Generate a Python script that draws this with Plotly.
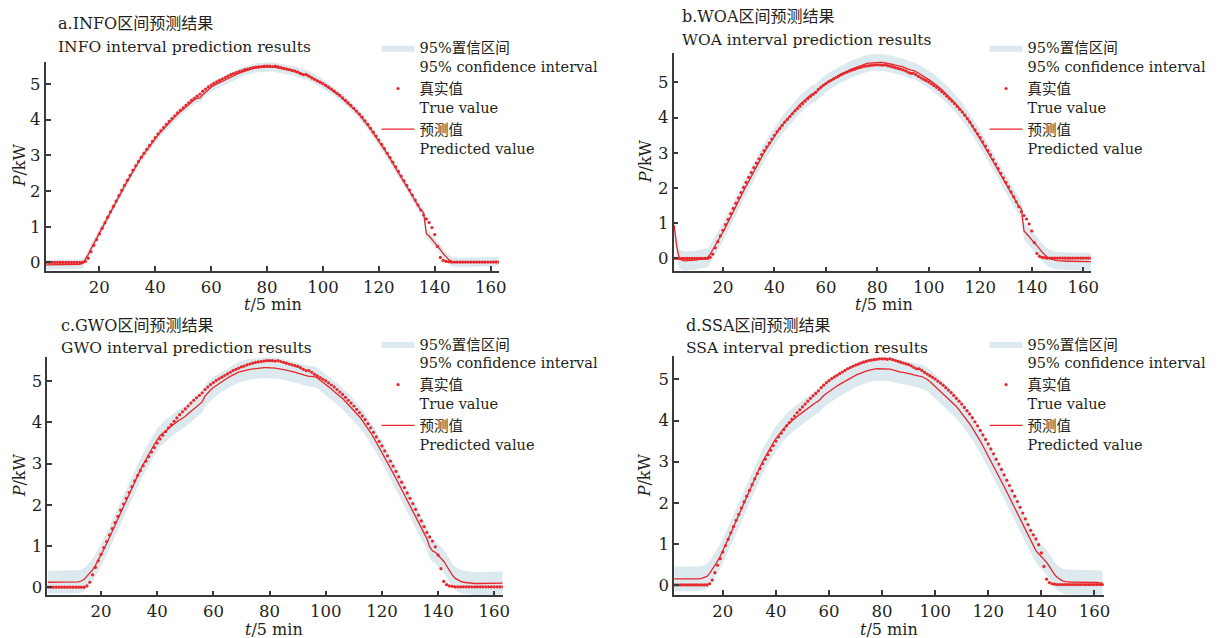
import plotly.graph_objects as go

t = list(range(1, 164))

true_val = [
    0, 0, 0, 0, 0, 0, 0, 0, 0, 0, 0, 0, 0, 0,
    0.03, 0.12, 0.30, 0.48, 0.64, 0.80,
    0.96, 1.11, 1.27, 1.42, 1.57, 1.72, 1.87, 2.02, 2.16, 2.30,
    2.44, 2.58, 2.71, 2.83, 2.95, 3.06, 3.17, 3.28, 3.39, 3.50,
    3.60, 3.69, 3.78, 3.87, 3.95, 4.03, 4.11, 4.19, 4.26, 4.33,
    4.40, 4.47, 4.54, 4.60, 4.66, 4.72, 4.80, 4.86, 4.92, 4.97,
    5.02, 5.06, 5.10, 5.14, 5.18, 5.22, 5.26, 5.29, 5.32, 5.35,
    5.37, 5.40, 5.42, 5.44, 5.46, 5.47, 5.48, 5.49, 5.50, 5.50,
    5.50, 5.49, 5.50, 5.48, 5.46, 5.44, 5.42, 5.40, 5.38, 5.36,
    5.33, 5.29, 5.26, 5.26, 5.22, 5.17, 5.13, 5.09, 5.05, 5.01,
    4.96, 4.91, 4.86, 4.80, 4.74, 4.68, 4.61, 4.54, 4.47, 4.40,
    4.32, 4.24, 4.16, 4.07, 3.97, 3.87, 3.76, 3.65, 3.54, 3.43,
    3.31, 3.19, 3.06, 2.94, 2.81, 2.68, 2.55, 2.42, 2.29, 2.16,
    2.03, 1.89, 1.75, 1.61, 1.47, 1.33, 1.22, 1.12, 0.98, 0.78,
    0.45, 0.14, 0.06, 0.03, 0.02, 0.01, 0.01, 0.01, 0.01, 0.01,
    0.01, 0.01, 0.01, 0.01, 0.01, 0.01, 0.01, 0.01, 0.01, 0.01,
    0.01, 0.01, 0.01,
]

pred_info = [
    -0.07, -0.07, -0.07, -0.07, -0.07, -0.07, -0.07, -0.07, -0.07, -0.06, -0.06, -0.06, -0.05,
    -0.03,
    0.08, 0.22, 0.38, 0.53, 0.68, 0.82,
    0.97, 1.11, 1.26, 1.41, 1.56, 1.71, 1.86, 2.00, 2.14, 2.28,
    2.42, 2.56, 2.69, 2.82, 2.94, 3.05, 3.16, 3.27, 3.37, 3.47,
    3.57, 3.66, 3.75, 3.84, 3.92, 4.00, 4.08, 4.16, 4.23, 4.30,
    4.37, 4.44, 4.50, 4.56, 4.60, 4.61, 4.70, 4.78, 4.85, 4.91,
    4.96, 5.00, 5.04, 5.08, 5.12, 5.16, 5.20, 5.23, 5.27, 5.30,
    5.33, 5.36, 5.39, 5.41, 5.43, 5.45, 5.46, 5.47, 5.48, 5.48,
    5.48, 5.48, 5.47, 5.46, 5.44, 5.42, 5.40, 5.39, 5.38, 5.36,
    5.33, 5.30, 5.27, 5.27, 5.23, 5.18, 5.14, 5.10, 5.05, 5.00,
    4.95, 4.90, 4.85, 4.79, 4.73, 4.67, 4.60, 4.53, 4.46, 4.39,
    4.31, 4.23, 4.14, 4.05, 3.95, 3.85, 3.74, 3.63, 3.52, 3.40,
    3.28, 3.16, 3.04, 2.91, 2.78, 2.65, 2.52, 2.39, 2.25, 2.12,
    1.98, 1.84, 1.71, 1.58, 1.47, 1.40, 0.80, 0.74, 0.65, 0.56,
    0.46, 0.36, 0.25, 0.15, 0.08, 0.03, 0.01, 0.00, 0.00, 0.00,
    0.00, 0.00, 0.00, 0.00, 0.00, 0.00, 0.01, 0.01, 0.01, 0.01,
    0.02, 0.03, 0.02,
]

pred_woa = [
    0.95, 0.35, 0.00, -0.05, -0.07, -0.07, -0.07, -0.06, -0.05, -0.04, -0.03, -0.02, 0.00, 0.02,
    0.12, 0.24, 0.37, 0.50, 0.62, 0.75,
    0.89, 1.03, 1.17, 1.32, 1.47, 1.62, 1.77, 1.92, 2.06, 2.20,
    2.34, 2.48, 2.62, 2.75, 2.88, 3.01, 3.13, 3.25, 3.37, 3.48,
    3.59, 3.69, 3.79, 3.88, 3.97, 4.06, 4.14, 4.22, 4.30, 4.38,
    4.45, 4.52, 4.58, 4.64, 4.68, 4.70, 4.78, 4.85, 4.91, 4.97,
    5.02, 5.07, 5.12, 5.16, 5.20, 5.24, 5.28, 5.32, 5.35, 5.38,
    5.41, 5.44, 5.47, 5.50, 5.52, 5.54, 5.55, 5.56, 5.57, 5.57,
    5.57, 5.57, 5.56, 5.55, 5.53, 5.51, 5.49, 5.48, 5.46, 5.44,
    5.41, 5.37, 5.35, 5.34, 5.31, 5.27, 5.22, 5.18, 5.13, 5.08,
    5.03, 4.98, 4.92, 4.86, 4.80, 4.73, 4.66, 4.59, 4.51, 4.43,
    4.35, 4.26, 4.17, 4.07, 3.97, 3.86, 3.75, 3.63, 3.51, 3.39,
    3.27, 3.14, 3.01, 2.88, 2.75, 2.62, 2.49, 2.36, 2.23, 2.10,
    1.97, 1.84, 1.71, 1.59, 1.48, 1.40, 0.78, 0.70, 0.62, 0.53,
    0.45, 0.37, 0.28, 0.18, 0.10, 0.04, 0.00, -0.03, -0.05, -0.06,
    -0.07, -0.07, -0.08, -0.08, -0.08, -0.08, -0.08, -0.09, -0.09, -0.09,
    -0.09, -0.09, -0.09,
]

pred_gwo = [
    0.12, 0.12, 0.12, 0.12, 0.12, 0.12, 0.12, 0.12, 0.12, 0.12, 0.13, 0.13, 0.15, 0.19,
    0.27, 0.34, 0.42, 0.53, 0.65, 0.78,
    0.92, 1.06, 1.21, 1.36, 1.51, 1.67, 1.83, 1.98, 2.13, 2.28,
    2.43, 2.57, 2.71, 2.85, 2.98, 3.11, 3.24, 3.35, 3.47, 3.58,
    3.68, 3.74, 3.80, 3.86, 3.91, 3.97, 4.02, 4.06, 4.10, 4.15,
    4.21, 4.27, 4.33, 4.39, 4.45, 4.50, 4.64, 4.72, 4.79, 4.85,
    4.90, 4.95, 5.00, 5.04, 5.08, 5.12, 5.16, 5.19, 5.22, 5.24,
    5.26, 5.28, 5.29, 5.30, 5.31, 5.32, 5.32, 5.33, 5.33, 5.33,
    5.32, 5.32, 5.31, 5.30, 5.28, 5.27, 5.25, 5.24, 5.22, 5.20,
    5.18, 5.15, 5.13, 5.12, 5.12, 5.11, 5.08, 5.03, 4.97, 4.91,
    4.86, 4.81, 4.75, 4.70, 4.64, 4.58, 4.51, 4.44, 4.37, 4.30,
    4.22, 4.14, 4.05, 3.96, 3.86, 3.75, 3.64, 3.52, 3.40, 3.28,
    3.16, 3.03, 2.90, 2.77, 2.64, 2.51, 2.38, 2.25, 2.12, 1.99,
    1.86, 1.73, 1.60, 1.47, 1.34, 1.18, 0.98, 0.88, 0.85, 0.78,
    0.71, 0.63, 0.52, 0.40, 0.30, 0.22, 0.17, 0.14, 0.12, 0.11,
    0.10, 0.10, 0.09, 0.09, 0.09, 0.09, 0.09, 0.10, 0.10, 0.10,
    0.10, 0.10, 0.10,
]

pred_ssa = [
    0.15, 0.15, 0.15, 0.15, 0.15, 0.14, 0.14, 0.14, 0.14, 0.15, 0.15, 0.16, 0.18, 0.21,
    0.28, 0.37, 0.47, 0.58, 0.70, 0.83,
    0.97, 1.11, 1.26, 1.41, 1.56, 1.71, 1.86, 2.01, 2.16, 2.31,
    2.46, 2.60, 2.74, 2.87, 3.00, 3.12, 3.24, 3.35, 3.46, 3.56,
    3.65, 3.73, 3.81, 3.88, 3.94, 4.00, 4.05, 4.10, 4.15, 4.20,
    4.25, 4.30, 4.35, 4.40, 4.44, 4.47, 4.55, 4.61, 4.66, 4.71,
    4.76, 4.80, 4.84, 4.88, 4.92, 4.96, 5.00, 5.04, 5.07, 5.10,
    5.13, 5.16, 5.18, 5.20, 5.22, 5.24, 5.25, 5.26, 5.26, 5.26,
    5.26, 5.26, 5.25, 5.23, 5.21, 5.20, 5.18, 5.17, 5.16, 5.15,
    5.13, 5.11, 5.09, 5.08, 5.07, 5.04, 5.00, 4.95, 4.89, 4.83,
    4.78, 4.72, 4.66, 4.60, 4.54, 4.48, 4.41, 4.34, 4.26, 4.18,
    4.10, 4.01, 3.92, 3.82, 3.72, 3.61, 3.50, 3.38, 3.26, 3.14,
    3.02, 2.90, 2.78, 2.65, 2.52, 2.39, 2.26, 2.13, 2.00, 1.87,
    1.74, 1.61, 1.48, 1.36, 1.24, 1.10, 0.95, 0.83, 0.76, 0.69,
    0.62, 0.55, 0.45, 0.34, 0.25, 0.18, 0.13, 0.10, 0.08, 0.07,
    0.07, 0.07, 0.07, 0.07, 0.07, 0.07, 0.07, 0.07, 0.07, 0.06,
    0.06, 0.05, 0.05,
]

# half-width of the 95% confidence band, read per point
hw_info = [
    0.13, 0.13, 0.13, 0.13, 0.13, 0.13, 0.13, 0.13, 0.13, 0.13, 0.13, 0.13, 0.13, 0.13,
    0.12, 0.12, 0.12, 0.12, 0.12, 0.12,
    0.12, 0.12, 0.12, 0.12, 0.12, 0.12, 0.12, 0.12, 0.12, 0.12,
    0.12, 0.12, 0.12, 0.12, 0.12, 0.12, 0.12, 0.12, 0.12, 0.12,
    0.12, 0.12, 0.12, 0.12, 0.12, 0.12, 0.12, 0.12, 0.12, 0.12,
    0.12, 0.12, 0.12, 0.12, 0.12, 0.12, 0.12, 0.12, 0.12, 0.12,
    0.13, 0.13, 0.13, 0.13, 0.13, 0.13, 0.13, 0.13, 0.13, 0.13,
    0.13, 0.13, 0.13, 0.13, 0.13, 0.13, 0.13, 0.13, 0.13, 0.13,
    0.13, 0.13, 0.13, 0.13, 0.13, 0.13, 0.13, 0.13, 0.13, 0.13,
    0.13, 0.13, 0.13, 0.13, 0.13, 0.13, 0.13, 0.13, 0.13, 0.13,
    0.12, 0.12, 0.12, 0.12, 0.12, 0.12, 0.12, 0.12, 0.12, 0.12,
    0.12, 0.12, 0.12, 0.12, 0.12, 0.12, 0.12, 0.12, 0.12, 0.12,
    0.12, 0.12, 0.12, 0.12, 0.12, 0.12, 0.12, 0.12, 0.12, 0.12,
    0.12, 0.12, 0.12, 0.12, 0.12, 0.13, 0.13, 0.13, 0.13, 0.13,
    0.13, 0.13, 0.13, 0.13, 0.13, 0.13, 0.13, 0.13, 0.13, 0.13,
    0.13, 0.13, 0.13, 0.13, 0.13, 0.13, 0.13, 0.13, 0.13, 0.13,
    0.13, 0.13, 0.13,
]

hw_woa = [
    0.27, 0.27, 0.27, 0.27, 0.27, 0.27, 0.27, 0.27, 0.27, 0.27, 0.27, 0.27, 0.27, 0.27,
    0.26, 0.26, 0.26, 0.26, 0.26, 0.26,
    0.25, 0.25, 0.25, 0.25, 0.25, 0.25, 0.25, 0.25, 0.25, 0.25,
    0.25, 0.25, 0.25, 0.25, 0.25, 0.25, 0.25, 0.25, 0.25, 0.25,
    0.25, 0.25, 0.25, 0.25, 0.25, 0.25, 0.25, 0.25, 0.25, 0.25,
    0.25, 0.25, 0.25, 0.25, 0.25, 0.25, 0.25, 0.25, 0.25, 0.25,
    0.24, 0.24, 0.24, 0.24, 0.24, 0.24, 0.24, 0.24, 0.24, 0.24,
    0.24, 0.24, 0.24, 0.24, 0.24, 0.24, 0.24, 0.24, 0.24, 0.24,
    0.24, 0.24, 0.24, 0.24, 0.24, 0.24, 0.24, 0.24, 0.24, 0.24,
    0.24, 0.24, 0.24, 0.24, 0.24, 0.24, 0.24, 0.24, 0.24, 0.24,
    0.25, 0.25, 0.25, 0.25, 0.25, 0.25, 0.25, 0.25, 0.25, 0.25,
    0.25, 0.25, 0.25, 0.25, 0.25, 0.25, 0.25, 0.25, 0.25, 0.25,
    0.25, 0.25, 0.25, 0.25, 0.25, 0.25, 0.25, 0.25, 0.25, 0.25,
    0.25, 0.25, 0.25, 0.25, 0.25, 0.25, 0.25, 0.25, 0.25, 0.25,
    0.25, 0.25, 0.25, 0.25, 0.25, 0.25, 0.25, 0.25, 0.25, 0.25,
    0.25, 0.25, 0.25, 0.25, 0.25, 0.25, 0.25, 0.25, 0.25, 0.25,
    0.25, 0.25, 0.25,
]

hw_gwo = [
    0.28, 0.28, 0.28, 0.28, 0.28, 0.28, 0.28, 0.28, 0.28, 0.28, 0.28, 0.28, 0.28, 0.28,
    0.27, 0.27, 0.27, 0.27, 0.27, 0.27,
    0.27, 0.27, 0.27, 0.27, 0.27, 0.27, 0.27, 0.27, 0.27, 0.27,
    0.27, 0.27, 0.27, 0.27, 0.27, 0.27, 0.27, 0.27, 0.27, 0.27,
    0.26, 0.26, 0.26, 0.26, 0.26, 0.26, 0.26, 0.26, 0.26, 0.26,
    0.26, 0.26, 0.26, 0.26, 0.26, 0.26, 0.26, 0.26, 0.26, 0.26,
    0.25, 0.25, 0.25, 0.25, 0.25, 0.25, 0.25, 0.25, 0.25, 0.25,
    0.25, 0.25, 0.25, 0.25, 0.25, 0.25, 0.25, 0.25, 0.25, 0.25,
    0.25, 0.25, 0.25, 0.25, 0.25, 0.25, 0.25, 0.25, 0.25, 0.25,
    0.25, 0.25, 0.25, 0.25, 0.25, 0.25, 0.25, 0.25, 0.25, 0.25,
    0.26, 0.26, 0.26, 0.26, 0.26, 0.26, 0.26, 0.26, 0.26, 0.26,
    0.26, 0.26, 0.26, 0.26, 0.26, 0.26, 0.26, 0.26, 0.26, 0.26,
    0.27, 0.27, 0.27, 0.27, 0.27, 0.27, 0.27, 0.27, 0.27, 0.27,
    0.27, 0.27, 0.27, 0.27, 0.27, 0.27, 0.27, 0.27, 0.27, 0.27,
    0.28, 0.28, 0.28, 0.28, 0.28, 0.28, 0.28, 0.28, 0.28, 0.28,
    0.28, 0.28, 0.28, 0.28, 0.28, 0.28, 0.28, 0.28, 0.28, 0.28,
    0.28, 0.28, 0.28,
]

hw_ssa = [
    0.30, 0.30, 0.30, 0.30, 0.30, 0.30, 0.30, 0.30, 0.30, 0.30, 0.30, 0.30, 0.30, 0.30,
    0.30, 0.30, 0.30, 0.30, 0.30, 0.30,
    0.30, 0.30, 0.30, 0.30, 0.30, 0.30, 0.30, 0.30, 0.30, 0.30,
    0.30, 0.30, 0.30, 0.30, 0.30, 0.30, 0.30, 0.30, 0.30, 0.30,
    0.29, 0.29, 0.29, 0.29, 0.29, 0.29, 0.29, 0.29, 0.29, 0.29,
    0.29, 0.29, 0.29, 0.29, 0.29, 0.29, 0.29, 0.29, 0.29, 0.29,
    0.29, 0.29, 0.29, 0.29, 0.29, 0.29, 0.29, 0.29, 0.29, 0.29,
    0.29, 0.29, 0.29, 0.29, 0.29, 0.29, 0.29, 0.29, 0.29, 0.29,
    0.29, 0.29, 0.29, 0.29, 0.29, 0.29, 0.29, 0.29, 0.29, 0.29,
    0.29, 0.29, 0.29, 0.29, 0.29, 0.29, 0.29, 0.29, 0.29, 0.29,
    0.29, 0.29, 0.29, 0.29, 0.29, 0.29, 0.29, 0.29, 0.29, 0.29,
    0.29, 0.29, 0.29, 0.29, 0.29, 0.29, 0.29, 0.29, 0.29, 0.29,
    0.30, 0.30, 0.30, 0.30, 0.30, 0.30, 0.30, 0.30, 0.30, 0.30,
    0.30, 0.30, 0.30, 0.30, 0.30, 0.30, 0.30, 0.30, 0.30, 0.30,
    0.30, 0.30, 0.30, 0.30, 0.30, 0.30, 0.30, 0.30, 0.30, 0.30,
    0.30, 0.30, 0.30, 0.30, 0.30, 0.30, 0.30, 0.30, 0.30, 0.30,
    0.30, 0.30, 0.30,
]

x_ticks = [20, 40, 60, 80, 100, 120, 140, 160]
y_ticks = [0, 1, 2, 3, 4, 5]

titles_cn = ["a.INFO区间预测结果", "b.WOA区间预测结果", "c.GWO区间预测结果", "d.SSA区间预测结果"]
titles_en = ["INFO interval prediction results", "WOA interval prediction results",
             "GWO interval prediction results", "SSA interval prediction results"]
legend_names = ["95%置信区间<br>95% confidence interval", "真实值<br>True value", "预测值<br>Predicted value"]

W, H = 1232, 638
FONT = "DejaVu Serif, Noto Sans CJK SC, serif"
TXT = "#231f20"
RED = "#e8262b"
BAND = "#dce9ee"
AX = "#3a3a3a"

preds = [pred_info, pred_woa, pred_gwo, pred_ssa]
hws = [hw_info, hw_woa, hw_gwo, hw_ssa]

# layout geometry in pixels (left, right, top, bottom) and axis ranges
geo = [
    dict(px=(46, 502, 61.7, 271.7), xr=(0.8, 162.9), yr=(-0.235, 5.63),
         t1=(56, 24), t2=(56, 47), leg=(379, 32), xt=(275, 305), yt=(20, 166)),
    dict(px=(678, 1098, 52.7, 272.3), xr=(0.8, 163.0), yr=(-0.37, 5.85),
         t1=(684, 17), t2=(684, 40), leg=(991, 32), xt=(890, 305), yt=(650, 162)),
    dict(px=(47.7, 506, 357.7, 597.3), xr=(0.9, 163.0), yr=(-0.2, 5.6),
         t1=(59, 327), t2=(59, 349), leg=(379, 329), xt=(276, 631), yt=(20, 477)),
    dict(px=(678.7, 1111.7, 356.7, 596.7), xr=(1.7, 163.8), yr=(-0.24, 5.58),
         t1=(688, 327), t2=(688, 349), leg=(991, 329), xt=(895, 631), yt=(649, 477)),
]

fig = go.Figure()
annotations = []
layout = dict(width=W, height=H, margin=dict(l=0, r=0, t=0, b=0),
              paper_bgcolor="white", plot_bgcolor="white",
              font=dict(family=FONT, color=TXT, size=16))

for i in range(4):
    sfx = "" if i == 0 else str(i + 1)
    xa, ya = "x" + sfx, "y" + sfx
    leg = "legend" if i == 0 else "legend" + str(i + 1)
    pred, hw = preds[i], hws[i]
    hi = [p + w for p, w in zip(pred, hw)]
    lo = [p - w for p, w in zip(pred, hw)]
    fig.add_trace(go.Scatter(x=t, y=hi, mode="lines", line=dict(width=0, color=BAND),
                             showlegend=False, hoverinfo="skip", xaxis=xa, yaxis=ya, legend=leg))
    fig.add_trace(go.Scatter(x=t, y=lo, mode="lines", line=dict(width=0, color=BAND),
                             fill="tonexty", fillcolor=BAND, name=legend_names[0],
                             xaxis=xa, yaxis=ya, legend=leg))
    fig.add_trace(go.Scatter(x=t, y=true_val, mode="markers",
                             marker=dict(size=3.2, color=RED), name=legend_names[1],
                             xaxis=xa, yaxis=ya, legend=leg))
    fig.add_trace(go.Scatter(x=t, y=pred, mode="lines", line=dict(width=1.3, color=RED),
                             name=legend_names[2], xaxis=xa, yaxis=ya, legend=leg))

    g = geo[i]
    l, r, tp, bt = g["px"]
    axcommon = dict(showgrid=False, zeroline=False, showline=True, linecolor=AX, linewidth=1.8,
                    ticks="inside", ticklen=5, tickwidth=1.5, tickcolor=AX,
                    tickfont=dict(family=FONT, size=16.5, color=TXT))
    layout["xaxis" + sfx] = dict(domain=[l / W, r / W], range=list(g["xr"]), tickvals=x_ticks,
                                 anchor=ya, **axcommon)
    layout["yaxis" + sfx] = dict(domain=[1 - bt / H, 1 - tp / H], range=list(g["yr"]), tickvals=y_ticks,
                                 anchor=xa, **axcommon)
    layout[leg] = dict(x=g["leg"][0] / W, y=1 - g["leg"][1] / H, xanchor="left", yanchor="top",
                       bgcolor="rgba(0,0,0,0)", borderwidth=0, itemwidth=33, valign="top",
                       traceorder="normal", tracegroupgap=0,
                       font=dict(family=FONT, size=14.5, color=TXT))
    annotations.append(dict(text=titles_cn[i], x=g["t1"][0] / W, y=1 - g["t1"][1] / H,
                            xref="paper", yref="paper", xanchor="left", yanchor="middle",
                            showarrow=False, font=dict(family=FONT, size=16, color=TXT)))
    annotations.append(dict(text=titles_en[i], x=g["t2"][0] / W, y=1 - g["t2"][1] / H,
                            xref="paper", yref="paper", xanchor="left", yanchor="middle",
                            showarrow=False, font=dict(family=FONT, size=15.5, color=TXT)))
    annotations.append(dict(text="<i>t</i>/5 min", x=g["xt"][0] / W, y=1 - g["xt"][1] / H,
                            xref="paper", yref="paper", xanchor="center", yanchor="middle",
                            showarrow=False, font=dict(family=FONT, size=16, color=TXT)))
    annotations.append(dict(text="<i>P</i>/kW", x=g["yt"][0] / W, y=1 - g["yt"][1] / H,
                            xref="paper", yref="paper", xanchor="center", yanchor="middle",
                            textangle=-90, showarrow=False, font=dict(family=FONT, size=16, color=TXT)))

layout["annotations"] = annotations
fig.update_layout(**layout)
fig.write_html("out.html")
